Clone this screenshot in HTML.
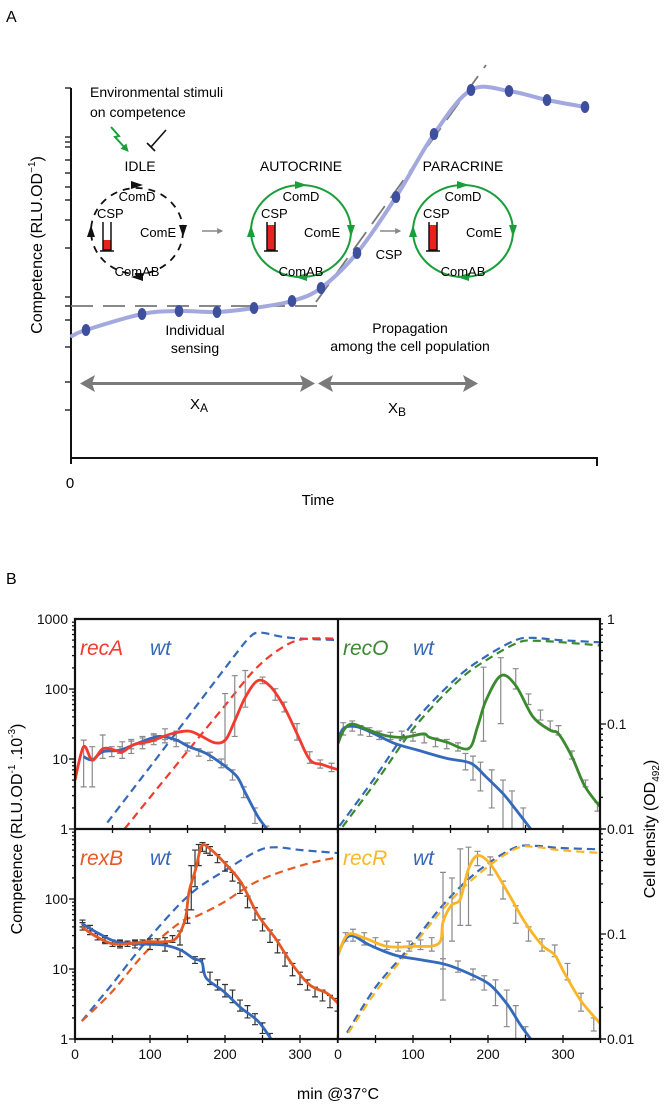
<!DOCTYPE html>
<html><head><meta charset="utf-8"><style>
html,body{margin:0;padding:0;background:#fff}
svg{display:block}
text{font-family:"Liberation Sans",sans-serif}
</style></head><body>
<svg id="fig" width="669" height="1109" viewBox="0 0 669 1109" xmlns="http://www.w3.org/2000/svg">
<defs>
<marker id="agr" viewBox="0 0 10 10" refX="5" refY="5" markerWidth="4" markerHeight="4" orient="auto"><path d="M0,0L10,5L0,10z" fill="#1a9e3a"/></marker>
<marker id="agy" viewBox="0 0 10 10" refX="8" refY="5" markerWidth="4" markerHeight="4" orient="auto"><path d="M0,0L10,5L0,10z" fill="#888"/></marker>
<clipPath id="cTL"><rect x="75" y="619" width="263" height="210"/></clipPath>
<clipPath id="cTR"><rect x="338" y="619" width="262" height="210"/></clipPath>
<clipPath id="cBL"><rect x="75" y="829" width="263" height="210"/></clipPath>
<clipPath id="cBR"><rect x="338" y="829" width="262" height="210"/></clipPath>
</defs>

<!-- Panel A -->
<text x="6" y="22" font-size="16">A</text>
<g stroke="#111" stroke-width="2" fill="none">
<path d="M71,88 L71,458 L597,458 L597,466"/>
<path d="M71,458 L71,464"/>
</g>
<g id="aticks" stroke="#111" stroke-width="1.3"></g>
<text x="70" y="488" font-size="15" text-anchor="middle">0</text>
<text x="318" y="505" font-size="15" text-anchor="middle">Time</text>
<text transform="translate(42,245) rotate(-90)" font-size="16" text-anchor="middle">Competence (RLU.OD<tspan font-size="10" dy="-7">−1</tspan><tspan dy="7">)</tspan></text>

<text x="90" y="97" font-size="14">Environmental stimuli</text>
<text x="90" y="117" font-size="14">on competence</text>
<path d="M111,127 L119,136 L115,137 L126,149" stroke="#1a9e3a" stroke-width="2" fill="none" marker-end="url(#agr)"/>
<path d="M166,130 L151,147 M147,143 L155,151" stroke="#111" stroke-width="1.6" fill="none"/>

<g id="cycles"></g>

<path d="M202,231 L222,231" stroke="#888" stroke-width="1.5" marker-end="url(#agy)"/>
<path d="M380,231 L400,231" stroke="#888" stroke-width="1.5" marker-end="url(#agy)"/>
<text x="389" y="259" font-size="13" text-anchor="middle">CSP</text>

<g id="acurve"></g>

<text x="195" y="335" font-size="14" text-anchor="middle">Individual</text>
<text x="195" y="353" font-size="14" text-anchor="middle">sensing</text>
<text x="410" y="333" font-size="14" text-anchor="middle">Propagation</text>
<text x="410" y="351" font-size="14" text-anchor="middle">among the cell population</text>
<g fill="#7a7a7a">
<rect x="88" y="382" width="218" height="3"/><path d="M80,383.5 L95,375 L92,383.5 L95,392z"/><path d="M315,383.5 L300,375 L303,383.5 L300,392z"/>
</g>
<g fill="#7a7a7a">
<rect x="326" y="382" width="145" height="3"/><path d="M318,383.5 L333,375 L330,383.5 L333,392z"/><path d="M478,383.5 L463,375 L466,383.5 L463,392z"/>
</g>
<text x="190" y="409" font-size="15">X<tspan font-size="12" dy="3">A</tspan></text>
<text x="388" y="413" font-size="15">X<tspan font-size="12" dy="3">B</tspan></text>

<!-- Panel B -->
<text x="6" y="584" font-size="16">B</text>
<g id="panelB"></g>
<text transform="translate(22,829) rotate(-90)" font-size="16" text-anchor="middle">Competence (RLU.OD<tspan font-size="10" dy="-7">-1</tspan><tspan dy="7"> .10</tspan><tspan font-size="10" dy="-7">-3</tspan><tspan dy="7">)</tspan></text>
<text transform="translate(655,829) rotate(-90)" font-size="16" text-anchor="middle">Cell density (OD<tspan font-size="10" dy="4">492</tspan><tspan dy="-4">)</tspan></text>
<text x="338" y="1099" font-size="16" text-anchor="middle">min @37°C</text>
</svg>
<script>
// ===== Panel A data =====
const aTimeX = [86,142,179,217,254,292,321,357,396,434,471,509,547,585];
const aCompY = [330,314,311,312,308,301,288,253,197,134,90,91,100,107];

// ===== Panel B data =====
// recA
const recA_t = [0,11.5,23,37,52,63,78,101,129,152,169,187,201,213,227,244,261,279,296,313,330,351];
const recA_v = [5,15,9.6,14,13.5,12.6,16,18,23,25,21,17,19,35,76,132,107,55,23,9.8,8.3,7];
const recA_err = [[11.5,4,18.6],[23,4,15],[37,10.2,22],[49,10.8,15],[63,10.2,17.6],[75,12,19],[90,14,20],[105,16,23],[120,19,27],[135,18,25],[200,8.2,86],[213,21,155],[227,55,184],[250,119,148],[267,69,101],[279,47,65],[296,18.6,32],[313,8.7,12.7],[327,7.4,9.7],[342,6.6,8.7]];
const recA_wt_t = [11.5,23,37,60,83,112,135,152,175,198,216,227,244,256];
const recA_wt_v = [10.8,9.7,12.7,13.4,16.7,21,18.6,15,12,8.2,5.6,3.3,1.5,1];
const recA_wt_err = [[60,12,15],[75,14,18],[90,16,21],[105,18,22],[120,17,21],[135,15,19],[150,13,17],[165,11,14],[180,9.5,12.5],[195,7.5,10],[210,5,7],[225,2.8,4],[240,1.2,2],[255,1,1.1]];
const recA_od_t = [66,100,150,200,238,270,302,351];
const recA_od = [0.01,0.02,0.055,0.15,0.32,0.5,0.64,0.65];
const recA_wtod_t = [43,100,150,200,232,247,275,302,351];
const recA_wtod = [0.0115,0.039,0.115,0.34,0.66,0.74,0.68,0.65,0.63];
// recO
const recO_t = [0,7.5,19,42,65,88,114,122,145,174,186,197,217,237,260,283,294,312,329,349];
const recO_v = [16.6,25.7,31.6,25.7,21.4,20.4,22.9,20.4,17.4,14.1,28.8,67.6,155,112,40,25.7,22.9,10.7,4.1,2.1];
const recO_err = [[7,22,33],[19,25,35],[30,22,30],[42,21,28],[55,19,25],[70,19,24],[85,19,25],[100,18,24],[115,17,22],[130,15,20],[145,14,19],[160,13,17],[194,18,205],[217,32,280],[237,100,195],[254,60,85],[270,36,50],[283,26,35],[294,22,30],[312,10,13],[330,4,5],[346,1.8,2.4]];
const recO_wt_t = [0,7.5,25,48,76,105,145,177,197,220,237,257];
const recO_wt_v = [18.6,27.5,28.8,23,16.6,13.5,10.2,8.7,5.6,3.2,1.9,1];
const recO_wt_err = [[170,7,12],[180,5,11],[190,3.5,9],[205,2,7],[220,1,5],[232,1,3.5],[247,1,2]];
const recO_od_t = [6,52,103,161,201,241,264,299,349];
const recO_od = [0.0105,0.029,0.095,0.26,0.42,0.6,0.62,0.6,0.56];
const recO_wtod_t = [2,48,99,157,197,237,260,295,349];
const recO_wtod = [0.0107,0.03,0.1,0.27,0.44,0.63,0.66,0.63,0.6];
// rexB
const rexB_t = [9,26,49,72,95,118,135,147,152,161,169,181,198,221,244,267,290,313,336,351];
const rexB_v = [40,30,23,23,24.5,24.5,27.5,52,126,270,575,510,340,175,59,27.5,11.5,5.9,4.5,3.2];
const rexB_err = [[10,36,46],[20,31,38],[30,26,32],[40,23,28],[50,21,26],[60,21,25],[70,21,25],[80,22,26],[90,22,26],[100,22,27],[110,22,27],[120,23,28],[130,24,30],[140,22,35],[150,45,70],[155,70,300],[160,150,500],[165,300,600],[170,480,640],[175,450,600],[180,420,560],[190,330,430],[200,250,340],[210,180,240],[220,120,170],[230,75,110],[240,50,75],[250,35,52],[260,24,36],[270,17,26],[280,11,17],[290,8,12],[300,6,9],[310,5,7],[320,4,5.5],[330,3.5,5],[340,2.8,4.2],[350,2.5,3.8]];
const rexB_wt_t = [9,32,55,83,118,141,158,169,175,198,221,244,261];
const rexB_wt_v = [44.7,32,24.5,23,22,18.6,14.1,12.6,7.4,4.8,2.8,1.8,1.02];
const rexB_wt_err = [[10,40,50],[20,35,42],[40,24,30],[60,20,26],[80,20,25],[100,19,24],[120,18,22],[140,15,19],[160,12,15],[170,9,14],[180,6,9],[190,5,7],[200,4,6],[210,3.3,5],[220,2.5,3.6],[230,2,3],[240,1.6,2.3],[250,1.2,1.7],[260,1,1.2]];
const rexB_od_t = [9,49,95,141,164,198,244,302,351];
const rexB_od = [0.0148,0.028,0.068,0.13,0.15,0.2,0.32,0.45,0.54];
const rexB_wtod_t = [9,49,95,152,204,244,267,302,351];
const rexB_wtod = [0.0148,0.033,0.085,0.234,0.42,0.62,0.67,0.63,0.59];
// recR
const recR_t = [0,13,36,65,99,134,140,151,163,174,186,203,226,249,272,289,301,324,351];
const recR_v = [15.8,31,27.5,21,21,23,47,81,100,270,417,316,126,47,22,15.8,9.1,3.5,1.6];
const recR_err = [[20,25,37],[35,22,33],[50,20,28],[65,19,25],[80,18,24],[95,18,25],[110,19,26],[125,18,28],[140,3.6,240],[152,25,200],[163,42,520],[174,42,550],[186,300,480],[203,220,400],[220,100,180],[237,45,80],[254,25,40],[272,18,27],[289,15,22],[306,7,12],[324,2.5,4.5],[341,1.3,2]];
const recR_wt_t = [0,7.5,19,42,76,111,145,180,203,226,243,257];
const recR_wt_v = [15.8,24.5,30,22,15.8,13.5,11.5,8.1,5.9,3.1,1.6,1];
const recR_wt_err = [[10,25,33],[140,10,14],[160,9,13],[180,7,10],[195,5,8],[210,3,7],[225,1.5,5],[237,1,3],[250,1,1.5]];
const recR_od_t = [14,53,94,145,191,237,266,295,351];
const recR_od = [0.0115,0.03,0.068,0.19,0.39,0.65,0.67,0.63,0.59];
const recR_wtod_t = [12,50,92,143,189,235,264,295,351];
const recR_wtod = [0.0115,0.031,0.07,0.2,0.41,0.66,0.69,0.66,0.64];

const xTicks = [0,100,200,300];
const leftTickLabels = [1000,100,10,1];
const rightTickLabels = [1,0.1,0.01];

const NS = "http://www.w3.org/2000/svg";
function mk(tag, attrs, parent){const e=document.createElementNS(NS,tag);for(const k in attrs)e.setAttribute(k,attrs[k]);parent.appendChild(e);return e;}
function smooth(pts){
  if(pts.length<2) return "";
  let d="M"+pts[0][0].toFixed(1)+","+pts[0][1].toFixed(1);
  for(let i=0;i<pts.length-1;i++){
    const p0=pts[i-1]||pts[i],p1=pts[i],p2=pts[i+1],p3=pts[i+2]||p2;
    const c1=[p1[0]+(p2[0]-p0[0])/6,p1[1]+(p2[1]-p0[1])/6];
    const c2=[p2[0]-(p3[0]-p1[0])/6,p2[1]-(p3[1]-p1[1])/6];
    d+="C"+c1[0].toFixed(1)+","+c1[1].toFixed(1)+" "+c2[0].toFixed(1)+","+c2[1].toFixed(1)+" "+p2[0].toFixed(1)+","+p2[1].toFixed(1);
  }
  return d;
}

// Panel A ticks
const at=document.getElementById('aticks');
[88,137,142,147,160,173,187,200,220,248,297,306,320,347,382,410].forEach(y=>{
  const l=mk('line',{x1:65,x2:71,y1:y,y2:y},at);
  
  
});

// Panel A cycles
const cy=document.getElementById('cycles');
function cycle(cx,label,idle,name){
  const g=mk('g',{},cy);
  
  
  const col=idle?"#111":"#1a9e3a";
  const el=mk('ellipse',{cx:cx,cy:231,rx:idle?46:50,ry:idle?43:46,fill:"none",stroke:col,"stroke-width":idle?1.8:2,"stroke-dasharray":idle?"7,6":"none"},g);
  
  
  // arrowheads
  const ah=[[cx,185,0],[cx+(idle?46:50),231,90],[cx,277,180],[cx-(idle?46:50),231,270]];
  ah.forEach(a=>{const p=mk('path',{d:"M-6,-4 L6,0 L-6,4z",fill:col,transform:`translate(${a[0]},${a[1]}) rotate(${a[2]})`},g);
    
    });
  const t=mk('text',{x:cx+(idle?3:0),y:171,"font-size":14,"text-anchor":"middle"},g);t.textContent=label;
  
  
  const words=[["ComD",cx,201,"middle"],["CSP",cx-40,218,"start"],["ComE",cx+3,237,"start"],["ComAB",cx,276,"middle"]];
  words.forEach(w=>{const tx=mk('text',{x:w[1],y:w[2],"font-size":13,"text-anchor":w[3]},g);tx.textContent=w[0];
    
    });
  // tube
  const tube=mk('g',{},g);
  
  
  const tx0=cx-34;
  mk('rect',{x:tx0,y:idle?240:225,width:8,height:idle?10:25,fill:"#e8231f"},tube);
  mk('path',{d:`M${tx0},222 L${tx0},250 L${tx0+8},250 L${tx0+8},222 M${tx0-3},251 L${tx0+11},251`,stroke:"#111","stroke-width":1.5,fill:"none"},tube);
}
cycle(137,"IDLE",true,"idle-cycle");
cycle(301,"AUTOCRINE",false,"autocrine-cycle");
cycle(463,"PARACRINE",false,"paracrine-cycle");

// Panel A curve
const ac=document.getElementById('acurve');
const dsh=mk('path',{d:"M71,306 L325,306 M316,302 L486,65",stroke:"#777","stroke-width":1.8,fill:"none","stroke-dasharray":"22,10"},ac);


const apts=aTimeX.map((x,i)=>[x,aCompY[i]]);
const acp=mk('path',{d:smooth([[72,336]].concat(apts)),stroke:"#a3a9de","stroke-width":4,fill:"none","stroke-linecap":"round"},ac);


apts.forEach(p=>{const e=mk('ellipse',{cx:p[0],cy:p[1],rx:4.3,ry:6,fill:"#3e4f9e"},ac);
  
  });

// Panel B
const pb=document.getElementById('panelB');
const panels=[
 {x0:75,y0:619,clip:"cTL",name:"reca-panel",mut:"recA",mc:"#f23a2e",mt:recA_t,mv:recA_v,me:recA_err,wt:recA_wt_t,wv:recA_wt_v,we:recA_wt_err,ot:recA_od_t,ov:recA_od,wot:recA_wtod_t,wov:recA_wtod,ec:"#8a8a8a"},
 {x0:338,y0:619,clip:"cTR",name:"reco-panel",mut:"recO",mc:"#3b8a2f",mt:recO_t,mv:recO_v,me:recO_err,wt:recO_wt_t,wv:recO_wt_v,we:recO_wt_err,ot:recO_od_t,ov:recO_od,wot:recO_wtod_t,wov:recO_wtod,ec:"#8a8a8a"},
 {x0:75,y0:829,clip:"cBL",name:"rexb-panel",mut:"rexB",mc:"#e55a24",mt:rexB_t,mv:rexB_v,me:rexB_err,wt:rexB_wt_t,wv:rexB_wt_v,we:rexB_wt_err,ot:rexB_od_t,ov:rexB_od,wot:rexB_wtod_t,wov:rexB_wtod,ec:"#333"},
 {x0:338,y0:829,clip:"cBR",name:"recr-panel",mut:"recR",mc:"#fbb626",mt:recR_t,mv:recR_v,me:recR_err,wt:recR_wt_t,wv:recR_wt_v,we:recR_wt_err,ot:recR_od_t,ov:recR_od,wot:recR_wtod_t,wov:recR_wtod,ec:"#8a8a8a"}
];
const WT="#3469bb";
panels.forEach(P=>{
  const xs=t=>P.x0+t*0.75;
  const ys=v=>P.y0+(3-Math.log10(v))*70;
  const yo=o=>P.y0+(-Math.log10(o))*105;
  const g=mk('g',{"clip-path":`url(#${P.clip})`},pb);
  
  
  // dashed OD curves: wt first then mutant
  const d1=mk('path',{d:smooth(P.wot.map((t,i)=>[xs(t),yo(P.wov[i])])),stroke:WT,"stroke-width":2.2,fill:"none","stroke-dasharray":"8,5"},g);
  
  
  const d2=mk('path',{d:smooth(P.ot.map((t,i)=>[xs(t),yo(P.ov[i])])),stroke:P.mc,"stroke-width":2.2,fill:"none","stroke-dasharray":"8,5"},g);
  
  
  // error bars
  const drawErr=(arr,nm)=>arr.forEach(e=>{
    const x=xs(e[0]),ya=ys(e[1]),yb=ys(e[2]);
    const p=mk('path',{d:`M${x},${ya}V${yb}M${x-3},${ya}H${x+3}M${x-3},${yb}H${x+3}`,stroke:P.ec,"stroke-width":1.2,fill:"none"},g);
    
    
  });
  drawErr(P.we,'wt-error-bar');
  drawErr(P.me,'mutant-error-bar');
  const s1=mk('path',{d:smooth(P.wt.map((t,i)=>[xs(t),ys(P.wv[i])])),stroke:WT,"stroke-width":2.8,fill:"none"},g);
  
  
  const s2=mk('path',{d:smooth(P.mt.map((t,i)=>[xs(t),ys(P.mv[i])])),stroke:P.mc,"stroke-width":2.8,fill:"none"},g);
  
  
  // legend text
  const l1=mk('text',{x:P.x0+5,y:P.y0+36,"font-size":21,"font-style":"italic",fill:P.mc},pb);l1.textContent=P.mut;
  
  
  const l2=mk('text',{x:P.x0+75,y:P.y0+36,"font-size":21,"font-style":"italic",fill:WT},pb);l2.textContent="wt";
  
  
});

// frames and ticks
const fr=mk('g',{stroke:"#111",fill:"none","stroke-width":1.3},pb);


mk('path',{d:"M75,619H600V1039H75Z M338,619V1039 M75,829H600","stroke-width":2.2},fr);
[619,829].forEach(top=>{
  // left log ticks
  for(let dec=0;dec<3;dec++){
    for(let m=1;m<=9;m++){
      const y=top+210-(dec+Math.log10(m))*70;
      mk('line',{x1:m==1?69:72,x2:75,y1:y,y2:y},fr);
      mk('line',{x1:600,x2:m==1?606:603,y1:top+210-(Math.floor(dec/1.5)+Math.log10(m))*105,y2:top+210-(Math.floor(dec/1.5)+Math.log10(m))*105},fr);
    }
  }
});
[829,1039].forEach(yb=>{
  [75,338].forEach(x0=>{
    for(let t=0;t<=350;t+=50){const x=x0+t*0.75;mk('line',{x1:x,x2:x,y1:yb-4,y2:yb+(yb==1039?4:4)},fr);}
  });
});
const lab=mk('g',{"font-size":14,fill:"#111"},pb);


function txt(x,y,s,anchor,nm){const t=mk('text',{x:x,y:y,"text-anchor":anchor},lab);t.textContent=s;
  
  }
leftTickLabels.forEach((v,i)=>txt(68,619+i*70+5,String(v),"end",'left-y-tick-label'));
leftTickLabels.slice(1).forEach((v,i)=>txt(68,829+(i+1)*70+5,String(v),"end",'left-y-tick-label'));
rightTickLabels.forEach((v,i)=>txt(607,619+i*105+5,String(v),"start",'right-y-tick-label'));
rightTickLabels.slice(1).forEach((v,i)=>txt(607,829+(i+1)*105+5,String(v),"start",'right-y-tick-label'));
[75,338].forEach(x0=>xTicks.forEach(t=>txt(x0+t*0.75,1059,String(t),"middle",'x-tick-label')));
</script>
</body></html>
